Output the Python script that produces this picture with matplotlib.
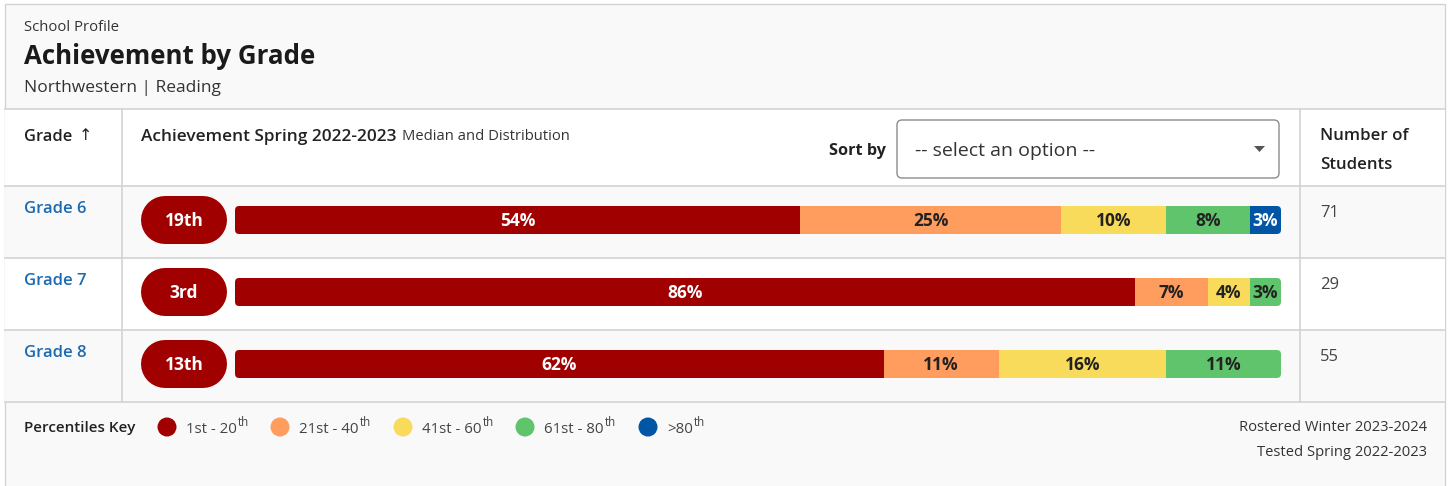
import numpy as np
import matplotlib.pyplot as plt
from matplotlib.patches import FancyBboxPatch, Circle, Rectangle, Polygon

# data
grades = ['Grade 6', 'Grade 7', 'Grade 8']
medians = ['19th', '3rd', '13th']
students = [71, 29, 55]
band_labels = ['1st - 20', '21st - 40', '41st - 60', '61st - 80', '>80']
p1_20 = [54, 86, 62]
p21_40 = [25, 7, 11]
p41_60 = [10, 4, 16]
p61_80 = [8, 3, 11]
p81_up = [3, 0, 0]
bands = [p1_20, p21_40, p41_60, p61_80, p81_up]

colors = ['#A00000', '#FF9D5F', '#F9DB5B', '#5FC46B', '#0055A5']
label_colors = ['white', '#222222', '#222222', '#222222', 'white']
line_c = '#D3D3D3'
gray_bg = '#F9F9F9'

W, H = 1449, 486
plt.rcParams['font.family'] = ['Open Sans', 'DejaVu Sans']
fig = plt.figure(figsize=(W / 100, H / 100), dpi=100)
fig.patch.set_facecolor('white')

# pixel layout axes
bg = fig.add_axes([0, 0, 1, 1])
bg.set_xlim(0, W)
bg.set_ylim(H, 0)
bg.axis('off')

row_top0, row_h = 186, 72
n = len(grades)
dy = 1.5  # small nudge for text baselines

# card + bands
bg.add_patch(Rectangle((5, 4), 1440, 490, fc=gray_bg, ec=line_c, lw=1))
bg.add_patch(Rectangle((5, 109), 1440, 77, fc='white', ec='none'))
for i in range(n):
    top = row_top0 + i * row_h
    bg.add_patch(Rectangle((5, top), 1440, row_h, fc=gray_bg if i % 2 == 0 else 'white', ec='none'))

for y in [109, 186, 258, 330, 402]:
    bg.plot([5, 1445], [y, y], color=line_c, lw=1.2)
for x in [122, 1300]:
    bg.plot([x, x], [109, 402], color=line_c, lw=1.2)

# header
bg.text(24, 26 + dy, 'School Profile', fontsize=10.7, color='#333333', va='center')
bg.text(24, 55 + dy, 'Achievement by Grade', fontsize=18.6, fontweight='bold', color='#1a1a1a', va='center')
bg.text(24, 86 + dy, 'Northwestern | Reading', fontsize=12.5, color='#333333', va='center')

# table header
bg.text(24, 135 + dy, 'Grade', fontsize=11.8, fontweight='semibold', color='#222222', va='center')
bg.text(79, 134 + dy, '\u2191', fontsize=11.5, color='#222222', va='center',
        family=['DejaVu Sans'])
r = fig.canvas.get_renderer()
t = bg.text(141, 135 + dy, 'Achievement Spring 2022-2023', fontsize=12.4, fontweight='semibold',
            color='#222222', va='center')
bb = t.get_window_extent(r)
bg.text(bb.x1 + 6, 135 + dy, 'Median and Distribution', fontsize=10.6, color='#333333', va='center')
bg.text(886, 149 + dy, 'Sort by', fontsize=11.7, fontweight='bold', color='#222222', va='center', ha='right')
bg.add_patch(FancyBboxPatch((897, 120), 382, 58, boxstyle='round,pad=0,rounding_size=5',
                            fc='white', ec='#8C8C8C', lw=1))
bg.text(915, 149 + dy, '-- select an option --', fontsize=14, color='#333333', va='center')
bg.add_patch(Polygon([(1254, 146), (1265, 146), (1259.5, 152)], closed=True, fc='#555555', ec='none'))
bg.text(1320, 134 + dy, 'Number of', fontsize=12.2, fontweight='semibold', color='#222222', va='center')
bg.text(1320, 163 + dy, 'Students', fontsize=12.2, fontweight='semibold', color='#222222', va='center')

# rows: grade names, badges, counts
pill_lw = 48 * 72 / 100
for i in range(n):
    top = row_top0 + i * row_h
    cy = top + 34
    bg.text(24, top + 21 + dy, grades[i], fontsize=12, fontweight='semibold', color='#1C6AB1', va='center')
    bg.plot([165, 203], [cy, cy], color=colors[0], lw=pill_lw, solid_capstyle='round')
    bg.text(184, cy + 1, medians[i], fontsize=12.5, fontweight='bold', color='white', ha='center', va='center')
    bg.text(1320, top + 25 + dy, str(students[i]), fontsize=12, color='#444444', va='center')

# stacked bars
ax = fig.add_axes([235 / W, 1 - 400 / H, 1046 / W, 216 / H])
ax.set_xlim(0, 100)
ax.set_ylim(n - 0.5, -0.5)
ax.axis('off')
bar_h = 28 / 72
ypos = np.arange(n)
left = np.zeros(n)
clips = []
for i in range(n):
    cp = FancyBboxPatch((0, i - bar_h / 2), 100, bar_h, boxstyle='round,pad=0,rounding_size=0.4',
                        mutation_aspect=0.147, fc='none', ec='none')
    ax.add_patch(cp)
    clips.append(cp)
for k, vals in enumerate(bands):
    vals = np.array(vals, dtype=float)
    bars = ax.barh(ypos, vals, left=left, height=bar_h, color=colors[k], lw=0)
    for i, b in enumerate(bars):
        b.set_clip_path(clips[i])
        if vals[i] > 0:
            ax.text(left[i] + vals[i] / 2, i + 0.015, f'{int(vals[i])}%', ha='center', va='center',
                    fontsize=12.5, fontweight='bold', color=label_colors[k])
    left += vals

# footer key
bg.text(24, 426 + dy, 'Percentiles Key', fontsize=11, fontweight='semibold', color='#222222', va='center')
key_x = [167, 280, 403, 525, 648]
for k in range(5):
    bg.add_patch(Circle((key_x[k], 427), 9.5, fc=colors[k], ec='none'))
    tt = bg.text(key_x[k] + 19, 428 + dy, band_labels[k], fontsize=10.8, color='#444444', va='center')
    bb = tt.get_window_extent(r)
    bg.text(bb.x1 + 1, 421 + dy, 'th', fontsize=8.3, color='#444444', va='center')

bg.text(1427, 426 + dy, 'Rostered Winter 2023-2024', fontsize=10.6, color='#333333', ha='right', va='center')
bg.text(1427, 451 + dy, 'Tested Spring 2022-2023', fontsize=10.6, color='#333333', ha='right', va='center')

fig.savefig('out.png', dpi=100)
